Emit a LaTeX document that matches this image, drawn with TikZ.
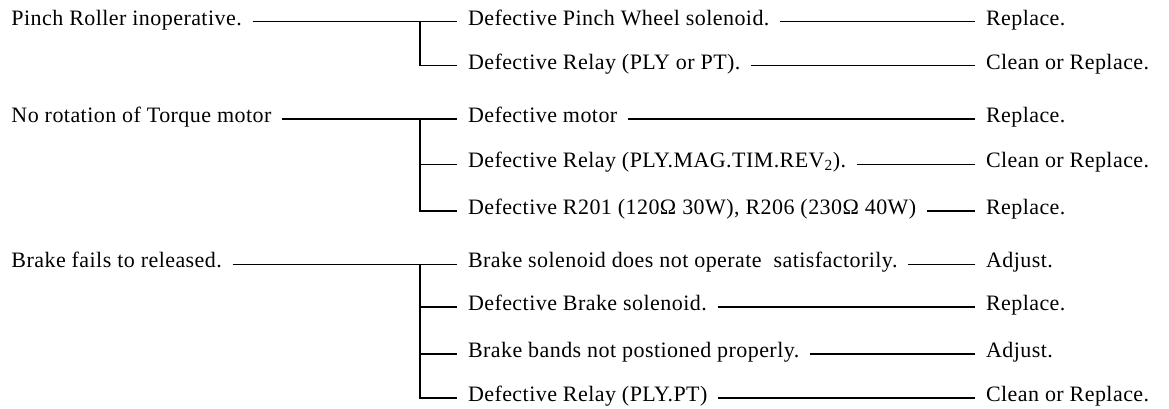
\documentclass[tikz,border=0pt]{standalone}
\usepackage{fontspec}
\setmainfont[LetterSpace=2]{Liberation Serif}
\usepackage{tikz}
\usetikzlibrary{positioning}

\begin{document}
\begin{tikzpicture}[x=1pt, y=-1pt,
    txt/.style={anchor=west, inner sep=0pt, outer xsep=11pt, text height=0.68em, text depth=0pt, font=\fontsize{22}{26}\selectfont},
    link/.style={line width=1.6pt}]
    \useasboundingbox (0,0) rectangle (1169,409);
    \coordinate (brk) at (420,0);

    % pinch roller
    \node[txt] (roller) at (0.5,21.7) {Pinch Roller inoperative.};
    \node[txt] (roller1) at (457,21.7) {Defective Pinch Wheel solenoid.};
    \node[txt] (roller2) at (457,65.7) {Defective Relay (PLY or PT).};
    \node[txt] (fix1) at (975,21.7) {Replace.};
    \node[txt] (fix2) at (975,65.7) {Clean or Replace.};

    % torque motor
    \node[txt] (torque) at (0.5,119.3) {No rotation of Torque motor};
    \node[txt] (torque1) at (457,119.3) {Defective motor};
    \node[txt] (torque2) at (457,164.3) {Defective Relay (PLY.MAG.TIM.REV\textsubscript{2}).};
    \node[txt] (torque3) at (457,211) {Defective R201 (120Ω 30W), R206 (230Ω 40W)};
    \node[txt] (fix3) at (975,119.3) {Replace.};
    \node[txt] (fix4) at (975,164.3) {Clean or Replace.};
    \node[txt] (fix5) at (975,211) {Replace.};

    % brake
    \node[txt] (brake) at (0.5,264.3) {Brake fails to released.};
    \node[txt] (brake1) at (457,264.3) {Brake solenoid does not operate~ satisfactorily.};
    \node[txt] (brake2) at (457,307) {Defective Brake solenoid.};
    \node[txt] (brake3) at (457,353.7) {Brake bands not postioned properly.};
    \node[txt] (brake4) at (457,398) {Defective Relay (PLY.PT)};
    \node[txt] (fix6) at (975,264.3) {Adjust.};
    \node[txt] (fix7) at (975,307) {Replace.};
    \node[txt] (fix8) at (975,353.7) {Adjust.};
    \node[txt] (fix9) at (975,398) {Clean or Replace.};

    \draw[link] (roller) -- (roller1);
    \draw[link] (brk |- roller1) |- (roller2);
    \draw[link] (roller1) -- (fix1);
    \draw[link] (roller2) -- (fix2);

    \draw[link] (torque) -- (torque1);
    \draw[link] (brk |- torque1) |- (torque3);
    \draw[link] (brk |- torque2) -- (torque2);
    \draw[link] (torque1) -- (fix3);
    \draw[link] (torque2) -- (fix4);
    \draw[link] (torque3) -- (fix5);

    \draw[link] (brake) -- (brake1);
    \draw[link] (brk |- brake1) |- (brake4);
    \draw[link] (brk |- brake2) -- (brake2);
    \draw[link] (brk |- brake3) -- (brake3);
    \draw[link] (brake1) -- (fix6);
    \draw[link] (brake2) -- (fix7);
    \draw[link] (brake3) -- (fix8);
    \draw[link] (brake4) -- (fix9);
\end{tikzpicture}
\end{document}
